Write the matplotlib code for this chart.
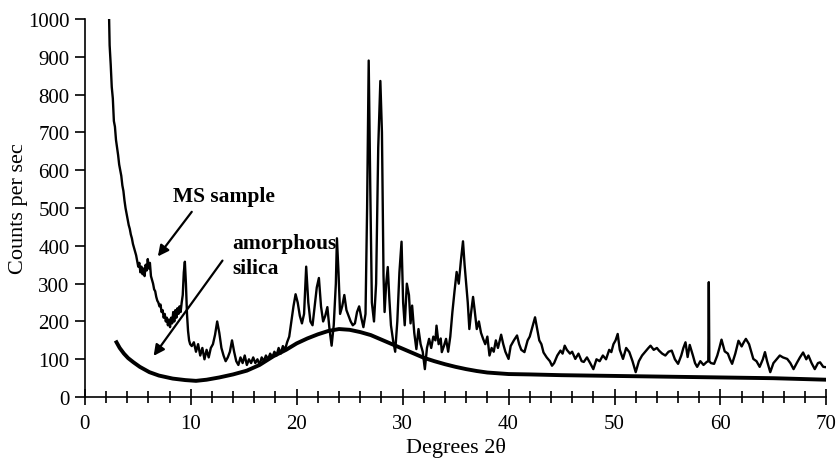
import matplotlib
matplotlib.use("Agg")
import matplotlib.pyplot as plt
from matplotlib.ticker import MultipleLocator

plt.rcParams["font.family"] = ["Liberation Serif", "DejaVu Serif"]

# MS sample trace (deg 2-theta, counts/s)
ms_deg = [
    2.3, 2.35, 2.45, 2.55, 2.65, 2.75, 2.85, 2.95, 3.05, 3.15, 3.25, 3.35, 3.45, 3.55,
    3.65, 3.75, 3.85, 3.95, 4.05, 4.15, 4.25, 4.35, 4.45, 4.55, 4.65, 4.75, 4.85, 4.95,
    5.05, 5.15, 5.25, 5.35, 5.45, 5.55, 5.65, 5.75, 5.85, 5.95, 6.05, 6.15, 6.25, 6.35,
    6.45, 6.55, 6.65, 6.75, 6.85, 6.95, 7.05, 7.15, 7.25, 7.35, 7.45, 7.55, 7.65, 7.75,
    7.85, 7.95, 8.05, 8.15, 8.25, 8.35, 8.45, 8.55, 8.65, 8.75, 8.85, 8.95, 9.05, 9.15,
    9.25, 9.35, 9.45, 9.55, 9.65, 9.75, 9.85, 9.95, 10.1, 10.3, 10.5, 10.7, 10.9, 11.1,
    11.3, 11.5, 11.7, 11.9, 12.1, 12.3, 12.5, 12.7, 12.9, 13.1, 13.3, 13.5, 13.7, 13.9,
    14.1, 14.3, 14.5, 14.7, 14.9, 15.1, 15.3, 15.5, 15.7, 15.9, 16.1, 16.3, 16.5, 16.7,
    16.9, 17.1, 17.3, 17.5, 17.7, 17.9, 18.1, 18.3, 18.5, 18.7, 18.9, 19.1, 19.3, 19.5,
    19.7, 19.9, 20.1, 20.3, 20.5, 20.7, 20.9, 21.1, 21.3, 21.5, 21.7, 21.9, 22.1, 22.3,
    22.5, 22.7, 22.9, 23.1, 23.3, 23.5, 23.7, 23.8, 23.95, 24.1, 24.3, 24.5, 24.7, 24.9,
    25.1, 25.3, 25.5, 25.7, 25.9, 26.1, 26.3, 26.5, 26.65, 26.8, 26.95, 27.1, 27.3, 27.5,
    27.7, 27.9, 28.05, 28.2, 28.3, 28.45, 28.6, 28.75, 28.9, 29.1, 29.3, 29.5, 29.7, 29.9,
    30.05, 30.2, 30.4, 30.6, 30.75, 30.9, 31.1, 31.3, 31.5, 31.7, 31.9, 32.1, 32.3, 32.5,
    32.7, 32.9, 33.1, 33.2, 33.4, 33.6, 33.7, 33.9, 34.1, 34.3, 34.5, 34.7, 34.9, 35.1,
    35.3, 35.5, 35.7, 35.85, 36.0, 36.15, 36.3, 36.45, 36.65, 36.8, 37.0, 37.2, 37.4, 37.6,
    37.8, 38.0, 38.2, 38.4, 38.6, 38.8, 39.0, 39.3, 39.5, 39.7, 40.0, 40.2, 40.5, 40.8,
    41.0, 41.2, 41.5, 41.8, 42.0, 42.3, 42.5, 42.7, 42.9, 43.1, 43.3, 43.6, 43.9, 44.1,
    44.3, 44.6, 44.9, 45.1, 45.3, 45.5, 45.8, 46.0, 46.3, 46.6, 46.9, 47.1, 47.4, 47.7,
    48.0, 48.3, 48.6, 48.9, 49.2, 49.5, 49.7, 49.9, 50.1, 50.3, 50.5, 50.8, 51.1, 51.4,
    51.7, 52.0, 52.3, 52.6, 52.9, 53.2, 53.4, 53.7, 54.0, 54.2, 54.5, 54.8, 55.1, 55.4,
    55.7, 56.0, 56.3, 56.5, 56.7, 56.9, 57.1, 57.4, 57.6, 57.8, 58.1, 58.4, 58.7, 58.85,
    58.9, 58.95, 59.1, 59.4, 59.7, 59.9, 60.1, 60.4, 60.7, 60.9, 61.1, 61.4, 61.7, 62.0,
    62.2, 62.4, 62.7, 62.9, 63.1, 63.4, 63.7, 64.0, 64.2, 64.4, 64.7, 65.0, 65.3, 65.6,
    65.9, 66.3, 66.6, 66.9, 67.2, 67.5, 67.8, 68.1, 68.3, 68.6, 68.9, 69.2, 69.4, 69.7,
    70.0,
]
ms_cps = [
    1000, 930, 880, 820, 790, 730, 715, 680, 660, 640, 615, 600, 585, 560,
    545, 520, 500, 485, 470, 455, 445, 430, 420, 405, 395, 385, 375, 360,
    345, 355, 330, 345, 325, 340, 320, 350, 335, 365, 340, 355, 320, 310,
    300, 285, 280, 265, 255, 250, 240, 245, 225, 230, 210, 220, 200, 210,
    190, 205, 185, 210, 195, 225, 200, 230, 210, 235, 220, 240, 225, 250,
    270, 330, 358, 300, 220, 175, 150, 140, 135, 145, 120, 140, 110, 130,
    100, 125, 105, 130, 140, 165, 200, 170, 130, 110, 95, 105, 120, 150,
    120, 95, 85, 105, 90, 110, 85, 100, 90, 105, 90, 100, 85, 105,
    95, 110, 100, 115, 105, 120, 110, 130, 115, 135, 125, 145, 160, 200,
    240, 272, 250, 215, 195, 220, 345, 250, 200, 190, 240, 290, 315, 240,
    200, 215, 238, 180, 136, 190, 300, 420, 330, 220, 240, 270, 230, 215,
    200, 190, 195, 225, 240, 210, 185, 220, 500, 890, 550, 250, 200, 300,
    660, 836, 700, 320, 225, 300, 344, 260, 190, 150, 120, 200, 330, 411,
    250, 190, 300, 270, 195, 242, 170, 127, 180, 140, 120, 74, 130, 154,
    130, 160, 150, 189, 140, 155, 119, 135, 154, 120, 160, 225, 280, 331,
    300, 360, 412, 350, 300, 250, 180, 220, 265, 230, 180, 200, 170, 154,
    140, 160, 110, 130, 120, 150, 130, 165, 140, 120, 101, 135, 150, 163,
    140, 125, 119, 150, 160, 190, 211, 180, 150, 140, 118, 105, 95, 83,
    90, 110, 123, 115, 136, 125, 115, 120, 101, 115, 95, 93, 105, 90,
    74, 100, 95, 110, 100, 125, 119, 140, 150, 167, 125, 101, 130, 119,
    95, 66, 95, 110, 120, 130, 136, 125, 130, 123, 115, 110, 120, 123,
    100, 88, 110, 130, 145, 106, 138, 110, 90, 80, 95, 85, 93, 95,
    304, 95, 90, 88, 110, 130, 152, 121, 115, 100, 88, 115, 149, 134,
    145, 154, 140, 120, 101, 95, 80, 100, 119, 95, 66, 90, 100, 110,
    105, 101, 90, 74, 90, 105, 118, 100, 110, 90, 74, 90, 92, 80,
    79,
]

# amorphous silica trace
si_deg = [3.0, 3.3, 3.7, 4.1, 4.6, 5.2, 6.1, 7.0, 8.3, 9.5, 10.5, 11.5, 12.7, 14.0,
          15.3, 16.5, 17.8, 19.0, 20.0, 21.0, 22.0, 23.0, 24.0, 25.0, 26.0, 27.0,
          28.0, 29.0, 30.0, 31.0, 32.0, 33.0, 34.0, 35.0, 36.0, 37.0, 38.0, 39.0,
          40.0, 42.0, 45.0, 50.0, 55.0, 60.0, 65.0, 70.0]
si_cps = [145, 130, 115, 103, 92, 80, 66, 57, 49, 45, 43, 46, 52, 60,
          70, 85, 108, 125, 142, 155, 166, 175, 180, 178, 172, 164,
          152, 140, 128, 116, 104, 95, 87, 80, 74, 69, 65, 63,
          61, 60, 58, 56, 54, 52, 50, 46]

fig = plt.figure(figsize=(8.39, 4.64), dpi=100)
ax = fig.add_axes([0.101, 0.142, 0.884, 0.815])

ax.plot(si_deg, si_cps, color="black", lw=2.8, solid_joinstyle="round")
ax.plot(ms_deg, ms_cps, color="black", lw=1.7)

ax.set_xlim(0, 70)
ax.set_ylim(0, 1000)
ax.xaxis.set_major_locator(MultipleLocator(10))
ax.xaxis.set_minor_locator(MultipleLocator(2))
ax.yaxis.set_major_locator(MultipleLocator(100))
ax.tick_params(axis="x", which="major", direction="inout", length=12, width=1.2,
               labelsize=15, pad=6)
ax.tick_params(axis="x", which="minor", direction="inout", length=8, width=1.2)
ax.tick_params(axis="y", direction="out", length=7, width=1.2, labelsize=15, pad=4)
for s in ("top", "right"):
    ax.spines[s].set_visible(False)
for s in ("left", "bottom"):
    ax.spines[s].set_linewidth(1.2)

ax.set_xlabel("Degrees 2θ", fontsize=16, labelpad=3)
ax.set_ylabel("Counts per sec", fontsize=16, labelpad=0)

ax.text(8.3, 533, "MS sample", fontsize=15.5, fontweight="bold", va="center")
ax.annotate("", xy=(6.9, 372), xytext=(10.1, 490),
            arrowprops=dict(arrowstyle="-|>", color="black", lw=1.6,
                            mutation_scale=16, shrinkA=0, shrinkB=0))
ax.text(13.9, 374, "amorphous\nsilica", fontsize=15.5, fontweight="bold",
        va="center", linespacing=1.3)
ax.annotate("", xy=(6.5, 109), xytext=(13.0, 361),
            arrowprops=dict(arrowstyle="-|>", color="black", lw=1.6,
                            mutation_scale=16, shrinkA=0, shrinkB=0))

fig.savefig("out.png", dpi=100, facecolor="white")
